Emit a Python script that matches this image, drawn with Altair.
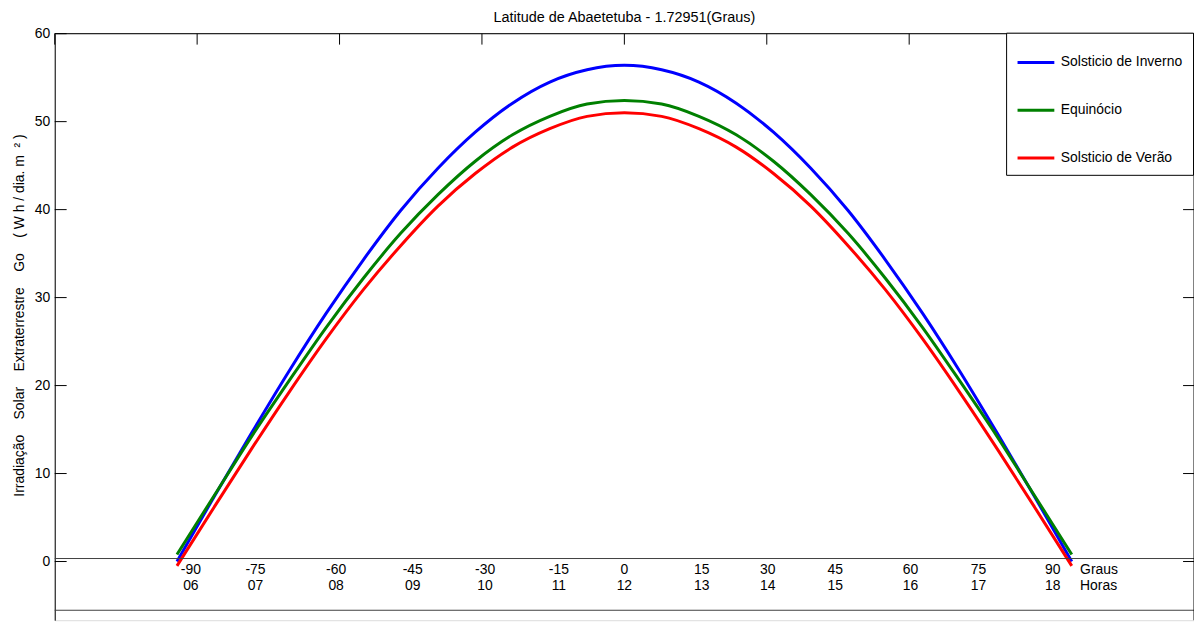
import altair as alt
import pandas as pd
import math

# ---------------- data ----------------
title_text = "Latitude de Abaetetuba - 1.72951(Graus)"
NB = "\u00a0"
y_title = ("Irradiação" + NB * 4 + "Solar" + NB * 4 + "Extraterrestre" + NB * 4 + "Go"
           + NB * 4 + "(" + NB + "W" + NB + "h" + NB + "/" + NB + "dia." + NB + "m" + NB * 2
           + "²" + NB + ")")
series_names = ["Solsticio de Inverno", "Equinócio", "Solsticio de Verão"]
series_colors = ["#0000FF", "#008000", "#FF0000"]

hour_angle_deg = [-90, -82.5, -75, -67.5, -60, -52.5, -45, -37.5, -30, -22.5, -15, -7.5, 0,
                  7.5, 15, 22.5, 30, 37.5, 45, 52.5, 60, 67.5, 75, 82.5, 90]
go_inverno = [0.0, 7.4, 14.6, 21.6, 28.2, 34.3, 39.9, 44.7, 48.8, 52.1, 54.5, 55.9, 56.4,
              55.9, 54.5, 52.1, 48.8, 44.7, 39.9, 34.3, 28.2, 21.6, 14.6, 7.4, 0.0]
go_equinocio = [0.8, 7.5, 14.2, 20.5, 26.6, 32.2, 37.3, 41.7, 45.5, 48.5, 50.6, 52.0, 52.4,
                52.0, 50.6, 48.5, 45.5, 41.7, 37.3, 32.2, 26.6, 20.5, 14.2, 7.5, 0.8]
go_verao = [-0.5, 6.2, 12.8, 19.2, 25.3, 30.9, 35.9, 40.4, 44.1, 47.1, 49.2, 50.6, 51.0,
            50.6, 49.2, 47.1, 44.1, 40.4, 35.9, 30.9, 25.3, 19.2, 12.8, 6.2, -0.5]

label_graus = ["-90", "-75", "-60", "-45", "-30", "-15", "0", "15", "30", "45", "60", "75", "90"]
label_horas = ["06", "07", "08", "09", "10", "11", "12", "13", "14", "15", "16", "17", "18"]
label_pos = [-1.522, -1.295, -1.012, -0.743, -0.489, -0.230, 0.0, 0.272, 0.503, 0.740, 1.005, 1.243, 1.504]
label_rows_y = [-1.0, -2.8]
unit_labels = ["Graus", "Horas"]
unit_pos = 1.60

hline_y = [0.34, -5.54]
y_ticks = [0, 10, 20, 30, 40, 50, 60]
x_ticks = [-2.0, -1.5, -1.0, -0.5, 0.0, 0.5, 1.0, 1.5, 2.0]
y_top = [60]
x_right = [2.0]

# ---------------- layout ----------------
W, H = 1146, 590
FONT = "Liberation Sans"
xscale = alt.Scale(domain=[-2, 2], nice=False, zero=False)
yscale = alt.Scale(domain=[-6.67, 60], nice=False, zero=False)

yax = alt.Axis(values=y_ticks, ticks=False, tickSize=0, grid=False,
               domainColor="black", domainWidth=1,
               labelFont=FONT, labelFontSize=14, labelColor="black", labelPadding=5,
               titleFont=FONT, titleFontSize=14, titleFontWeight="normal",
               titleColor="black", titleAngle=270, titleX=-35, titleY=283,
               titleAlign="center", titleBaseline="middle")


def yenc():
    return alt.Y("y:Q", scale=yscale, axis=yax, title=y_title)


def xenc():
    return alt.X("x:Q", scale=xscale, axis=None)


rows = []
for name, vals in zip(series_names, [go_inverno, go_equinocio, go_verao]):
    for d, v in zip(hour_angle_deg, vals):
        rows.append({"x": d * math.pi / 180.0, "y": v, "serie": name})
df_lines = pd.DataFrame(rows)

txt_rows = []
for p, g, h in zip(label_pos, label_graus, label_horas):
    txt_rows.append({"x": p, "y": label_rows_y[0], "t": g})
    txt_rows.append({"x": p, "y": label_rows_y[1], "t": h})
df_txt = pd.DataFrame(txt_rows)
df_units = pd.DataFrame({"x": [unit_pos, unit_pos], "y": label_rows_y, "t": unit_labels})

df_h = pd.DataFrame({"y": hline_y})
df_yt = pd.DataFrame({"y": y_ticks})
df_xt = pd.DataFrame({"x": x_ticks})
df_top = pd.DataFrame({"y": y_top})
df_right = pd.DataFrame({"x": x_right})

lines = alt.Chart(df_lines).mark_line(strokeWidth=3, interpolate="monotone").encode(
    x=xenc(),
    y=yenc(),
    color=alt.Color("serie:N",
                    scale=alt.Scale(domain=series_names, range=series_colors),
                    legend=alt.Legend(orient="none", legendX=957, legendY=-1, title=None,
                                      symbolType="stroke", symbolSize=1369,
                                      symbolStrokeWidth=3, labelFont=FONT,
                                      labelFontSize=14, labelColor="black",
                                      labelOffset=5, padding=10, rowPadding=21,
                                      strokeColor="black", fillColor="white",
                                      cornerRadius=0)))

hlines = alt.Chart(df_h).mark_rule(color="#404040", strokeWidth=1).encode(
    y=yenc(), x=alt.value(0), x2=alt.value(W))

texts = alt.Chart(df_txt).mark_text(font=FONT, fontSize=14, color="black",
                                     align="center", baseline="middle").encode(
    x=xenc(), y=yenc(), text="t:N")

units = alt.Chart(df_units).mark_text(font=FONT, fontSize=14, color="black",
                                       align="left", baseline="middle").encode(
    x=xenc(), y=yenc(), text="t:N")

left_ticks = alt.Chart(df_yt).mark_rule(color="black").encode(
    y=yenc(), x=alt.value(0), x2=alt.value(12))
right_ticks = alt.Chart(df_yt).mark_rule(color="black").encode(
    y=yenc(), x=alt.value(W - 11), x2=alt.value(W))
top_ticks = alt.Chart(df_xt).mark_rule(color="black").encode(
    x=xenc(), y=alt.value(0), y2=alt.value(11))

top_border = alt.Chart(df_top).mark_rule(color="black").encode(
    y=yenc(), x=alt.value(0), x2=alt.value(W))
right_border = alt.Chart(df_right).mark_rule(color="black").encode(
    x=xenc(), y=alt.value(0), y2=alt.value(H))

chart = alt.layer(lines, hlines, left_ticks, right_ticks, top_ticks, top_border, right_border,
                  texts, units).properties(
    width=W, height=H,
    title=alt.Title(title_text, font=FONT, fontSize=14.5, fontWeight="normal",
                    color="black", anchor="middle", offset=1),
    autosize=alt.AutoSizeParams(type="none"),
    padding={"left": 47, "top": 24, "right": 0, "bottom": 0},
).configure_view(stroke="transparent", strokeWidth=0).configure(background="white")

chart.save("out.html", embed_options={"renderer": "svg", "actions": False})
